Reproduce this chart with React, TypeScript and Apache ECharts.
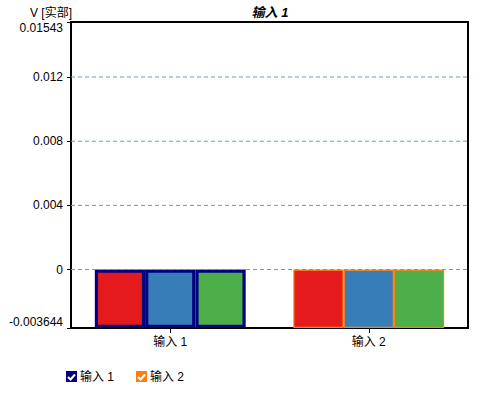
import React, { useEffect, useRef } from "react";
import * as echarts from "echarts";

const categories = ["输入 1", "输入 2"];
const seriesNames = ["分量 1", "分量 2", "分量 3"];
const seriesColors = ["#e41a1c", "#377eb8", "#4daf4a"];
const values1 = [-0.003644, -0.003644, -0.003644];
const values2 = [-0.003644, -0.003644, -0.003644];
const yMin = -0.003644;
const yMax = 0.01543;
const yTickValues = [-0.003644, 0, 0.004, 0.008, 0.012, 0.01543];
const gridValues = [0, 0.004, 0.008, 0.012];
const groupBorderColors = ["#000080", "#ff7f0e"];
const legendNames = ["输入 1", "输入 2"];
const titleText = "输入 1";
const yName = "V [实部]";

const FONT = "'Liberation Sans', Arial, 'Noto Sans CJK SC', sans-serif";

export default function App() {
  const ref = useRef<HTMLDivElement>(null);
  useEffect(() => {
    document.body.style.margin = "0";
    const chart = echarts.init(ref.current!, null, { renderer: "svg" });
    const series: any[] = seriesNames.map((name, i) => ({
      name,
      type: "bar",
      xAxisIndex: 0,
      barGap: "0%",
      barCategoryGap: "24%",
      itemStyle: { color: seriesColors[i] },
      z: 2,
      data: [
        {
          value: values1[i],
          itemStyle: { borderColor: groupBorderColors[0], borderWidth: 3.2 },
        },
        {
          value: values2[i],
          itemStyle: { borderColor: groupBorderColors[1], borderWidth: 1.2 },
        },
      ],
    }));
    gridValues.forEach((v) => {
      series.push({
        type: "line",
        xAxisIndex: 1,
        silent: true,
        symbol: "none",
        z: 5,
        lineStyle: { type: [4, 3], color: "#65a5aa", width: 1 },
        data: [
          [0, v],
          [1, v],
        ],
      });
    });

    const legendGraphics: any[] = [];
    const legendX = [66, 136];
    legendNames.forEach((n, i) => {
      const x = legendX[i];
      const y = 371;
      legendGraphics.push({
        type: "rect",
        shape: { x, y, width: 11, height: 11 },
        style: { fill: groupBorderColors[i] },
      });
      legendGraphics.push({
        type: "polyline",
        shape: { points: [[x + 2, y + 6], [x + 4.5, y + 8.5], [x + 9, y + 3.5]] },
        style: { stroke: "#fff", lineWidth: 2, fill: null },
      });
      legendGraphics.push({
        type: "text",
        x: x + 14,
        y: 377,
        style: {
          text: n,
          font: `12px ${FONT}`,
          fill: "#000",
          textVerticalAlign: "middle",
        },
      });
    });

    chart.setOption({
      animation: false,
      grid: {
        left: 71,
        right: 16,
        top: 22,
        bottom: 65,
        show: true,
        borderColor: "#000",
        borderWidth: 2,
        backgroundColor: "transparent",
      },
      xAxis: [
        {
          type: "category",
          data: categories,
          axisLine: { show: true, onZero: false, lineStyle: { color: "#000", width: 2 } },
          axisTick: { show: true, alignWithLabel: true, length: 5, lineStyle: { color: "#000" } },
          axisLabel: { color: "#000", fontSize: 12, fontFamily: FONT, margin: 8 },
          splitLine: { show: false },
        },
        {
          type: "value",
          min: 0,
          max: 1,
          show: false,
          splitLine: { show: false },
        },
      ],
      yAxis: {
        type: "value",
        min: yMin,
        max: yMax,
        axisLine: { show: true, onZero: false, lineStyle: { color: "#000", width: 2 } },
        axisTick: {
          show: true,
          length: 4,
          customValues: yTickValues,
          lineStyle: { color: "#000" },
        },
        axisLabel: {
          color: "#000",
          fontSize: 12,
          fontFamily: FONT,
          margin: 8,
          customValues: yTickValues,
          verticalAlignMinLabel: "bottom",
          verticalAlignMaxLabel: "top",
          formatter: (v: number) => String(parseFloat(v.toPrecision(6))),
        },
        splitLine: { show: false },
      },
      series,
      graphic: [
        {
          type: "text",
          x: 270,
          y: 12,
          style: {
            text: titleText,
            font: `italic bold 13px ${FONT}`,
            fill: "#000",
            textAlign: "center",
            textVerticalAlign: "middle",
          },
        },
        {
          type: "text",
          x: 72,
          y: 13,
          style: {
            text: yName,
            font: `12px ${FONT}`,
            fill: "#000",
            textAlign: "right",
            textVerticalAlign: "middle",
          },
        },
        ...legendGraphics,
      ],
    });
    return () => chart.dispose();
  }, []);
  return <div ref={ref} style={{ width: 484, height: 393 }} />;
}
